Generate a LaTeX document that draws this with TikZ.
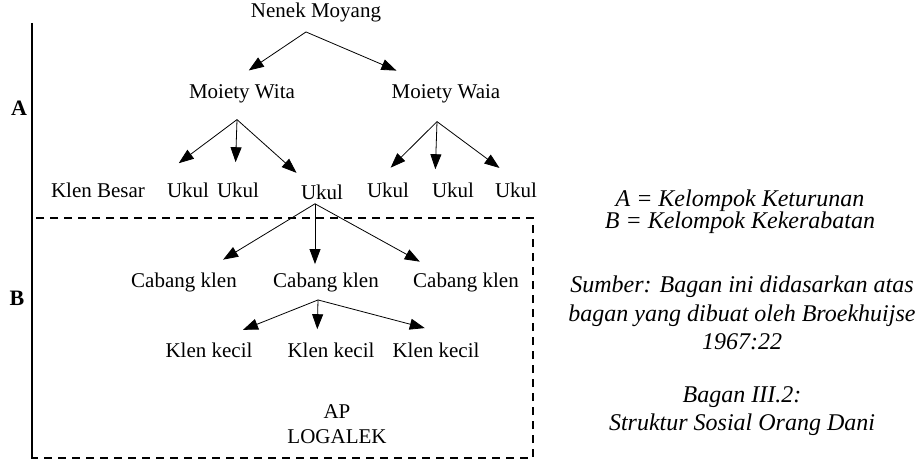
\documentclass[tikz,border=0pt]{standalone}
\usepackage{fontspec}
\setmainfont{Liberation Serif}[ItalicFont={Liberation Serif Italic}, BoldFont={Liberation Serif Bold}]
\usetikzlibrary{arrows.meta}

\begin{document}
\begin{tikzpicture}[
  x=0.5pt, y=-0.5pt,
  tnode/.style={inner sep=1pt, font=\fontsize{10.5}{12.6}\selectfont},
  sidelbl/.style={inner sep=1pt, font=\fontsize{11}{13}\selectfont\bfseries},
  note/.style={align=center, inner sep=1pt, font=\fontsize{12}{14.2}\selectfont\itshape},
  arr/.style={-{Triangle[length=7.5pt,width=5.5pt]}, line width=0.4pt},
  axisline/.style={line width=1pt},
  groupbox/.style={dashed, dash pattern=on 4pt off 3pt, line width=0.6pt},
]
\useasboundingbox (0,0) rectangle (920,465);

% Tree labels (pixel grid of the scan)
\node[tnode] (nenek) at (316,12)  {Nenek Moyang};
\node[tnode] (wita)  at (242,94)  {Moiety Wita};
\node[tnode] (waia)  at (446,94)  {Moiety Waia};
\node[tnode] (besar) at (98,190)  {Klen Besar};
\node[tnode] (u1) at (188,190) {Ukul};
\node[tnode] (u2) at (238,190) {Ukul};
\node[tnode] (u3) at (322,192) {Ukul};
\node[tnode] (u4) at (388,190) {Ukul};
\node[tnode] (u5) at (453,190) {Ukul};
\node[tnode] (u6) at (516,190) {Ukul};
\node[tnode] (c1) at (184,282) {Cabang klen};
\node[tnode] (c2) at (326,282) {Cabang klen};
\node[tnode] (c3) at (466,282) {Cabang klen};
\node[tnode] (k1) at (209,350) {Klen kecil};
\node[tnode] (k2) at (331,350) {Klen kecil};
\node[tnode] (k3) at (436,350) {Klen kecil};
\node[tnode, align=center] (ap) at (337,424) {AP\\LOGALEK};

% Branch points below each parent
\coordinate (nenek-o) at ([xshift=-5pt, yshift=-4pt]nenek.south);
\coordinate (wita-o)  at ([xshift=-2.5pt, yshift=-7pt]wita.south);
\coordinate (waia-o)  at ([xshift=-4.5pt, yshift=-8pt]waia.south);
\coordinate (u3-o)    at ([xshift=-3.5pt, yshift=-1pt]u3.south);
\coordinate (c2-o)    at ([xshift=-4pt, yshift=-3pt]c2.south);

% Arrows
\draw[arr, shorten >=10.7pt] (nenek-o) -- ([xshift=-5.5pt]wita.north);
\draw[arr, shorten >=15pt]   (nenek-o) -- ([xshift=-11pt]waia.north);
\draw[arr, shorten >=14.2pt] (wita-o) -- ([xshift=-16pt]u1.north);
\draw[arr, shorten >=9pt]    (wita-o) -- ([xshift=-1.5pt]u2.north);
\draw[arr, shorten >=7pt]    (wita-o) -- ([xshift=-7.5pt]u3.north);
\draw[arr, shorten >=8.9pt]  (waia-o) -- ([xshift=-5pt]u4.north);
\draw[arr, shorten >=5.5pt]  (waia-o) -- ([xshift=-9pt]u5.north);
\draw[arr, shorten >=10.3pt] (waia-o) -- (u6.north);
\draw[arr, shorten >=10pt]   (u3-o) -- ([xshift=11pt]c1.north);
\draw[arr, shorten >=3pt]    (u3-o) -- ([xshift=-5.5pt]c2.north);
\draw[arr, shorten >=8.7pt]  (u3-o) -- ([xshift=-15.5pt]c3.north);
\draw[arr, shorten >=14pt]   (c2-o) -- ([xshift=4pt]k1.north);
\draw[arr, shorten >=5.5pt]  (c2-o) -- ([xshift=-7pt]k2.north);
\draw[arr, shorten >=23.9pt] (c2-o) -- ([xshift=17.5pt]k3.north);

% Side axis and group box
\draw[axisline] (32,23) -- (32,458);
\draw[groupbox] (32,218) rectangle (533,458);
\node[sidelbl] (lblA) at (19,108) {A};
\node[sidelbl] (lblB) at (17,298) {B};

% Notes on the right
\node[note, font=\fontsize{12}{11}\selectfont\itshape] (legend) at (740,212)
  {A = Kelompok Keturunan\\B = Kelompok Kekerabatan};
\node[note] (source) at (742,313)
  {Sumber: Bagan ini didasarkan atas\\bagan yang dibuat oleh Broekhuijse\\1967:22};
\node[note] (caption) at (742,411) {Bagan III.2:\\Struktur Sosial Orang Dani};

\end{tikzpicture}
\end{document}
